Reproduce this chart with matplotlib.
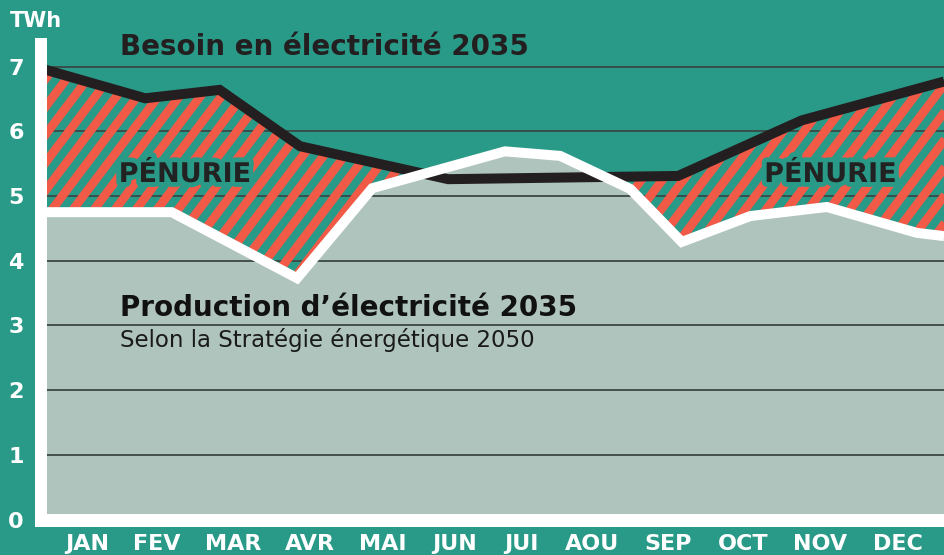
import numpy as np
import matplotlib
matplotlib.use("Agg")
import matplotlib.pyplot as plt
from matplotlib.path import Path
from matplotlib.collections import LineCollection
import matplotlib.patheffects as pe

# ---- data ----
months = ["JAN", "FEV", "MAR", "AVR", "MAI", "JUN", "JUI", "AOU", "SEP", "OCT", "NOV", "DEC"]
month_label_pos = [0, 0.95, 1.98, 3.02, 4.01, 4.99, 5.89, 6.85, 7.88, 8.90, 9.95, 11.0]
y_ticks = [0, 1, 2, 3, 4, 5, 6, 7]

demand_x = [-0.62, 0.79, 1.80, 2.89, 4.90, 8.02, 9.70, 11.63]
demand = [6.97, 6.51, 6.64, 5.77, 5.26, 5.31, 6.17, 6.77]

production_x = [-0.62, 1.15, 2.85, 3.87, 5.67, 6.42, 7.37, 8.07, 9.00, 10.04, 11.26, 11.63]
production = [4.75, 4.75, 3.73, 5.12, 5.69, 5.62, 5.11, 4.29, 4.69, 4.83, 4.43, 4.38]

# ---- style ----
TEAL = "#299a88"
RED = "#f05a46"
GRAY = "#aec4bc"
BLACK = "#231f20"
GRID = "#3b4745"

W, H = 944, 555
fig = plt.figure(figsize=(W / 100, H / 100), dpi=100, facecolor=TEAL)
ax = fig.add_axes([41 / W, (H - 519.5) / H, (944 - 41) / W, (519.5 - 44) / H])
ax.set_facecolor(TEAL)
ax.set_xlim(-0.624, 11.628)
ax.set_ylim(0, (519.5 - 44) / 64.7)

# production area
ax.fill_between(production_x, 0, production, color=GRAY, lw=0, zorder=0.4)

# grid lines
ax.hlines(y_ticks[1:], -0.624, 11.628, color=GRID, lw=1.3, zorder=0.6)

# shortage area (demand > production) with diagonal stripes
xs = np.unique(np.concatenate([demand_x, production_x]))
d_i = np.interp(xs, demand_x, demand)
p_i = np.interp(xs, production_x, production)
coll = ax.fill_between(xs, p_i, d_i, where=d_i > p_i, interpolate=True,
                       facecolor="none", edgecolor="none", lw=0, zorder=0.5)
clip = Path.make_compound_path(*coll.get_paths())

theta = np.deg2rad(53)
period = 21.0
inv = ax.transData.inverted()
segs = []
x0 = -H / np.tan(theta) - period
while x0 < W + period:
    p0 = inv.transform((x0, 0))
    p1 = inv.transform((x0 + H / np.tan(theta), H))
    segs.append([p0, p1])
    x0 += period
lc = LineCollection(segs, colors=RED, linewidths=6.3, capstyle="butt",
                    antialiaseds=True, zorder=1)
ax.add_collection(lc, autolim=False)
lc.set_clip_path(clip, ax.transData)

# lines
ax.plot(demand_x, demand, color=BLACK, lw=7.2, solid_joinstyle="miter",
        solid_capstyle="butt", zorder=3)
ax.plot(production_x, production, color="white", lw=7.2, solid_joinstyle="miter",
        solid_capstyle="butt", zorder=4)

# axes
for s in ["top", "right"]:
    ax.spines[s].set_visible(False)
ax.spines["left"].set_color("white")
ax.spines["left"].set_linewidth(8.64)
ax.spines["bottom"].set_color("white")
ax.spines["bottom"].set_linewidth(9.36)
for s in ["left", "bottom"]:
    ax.spines[s].set_capstyle("projecting")
    ax.spines[s].set_zorder(5)

ax.set_yticks(y_ticks)
ax.set_yticklabels([str(v) for v in y_ticks])
ax.set_xticks(month_label_pos)
ax.set_xticklabels(months)
ax.tick_params(axis="y", length=0, pad=12.5, labelcolor="white", labelsize=16)
ax.tick_params(axis="x", length=0, pad=10.5, labelcolor="white", labelsize=16)
for lab in ax.get_xticklabels() + ax.get_yticklabels():
    lab.set_fontweight("bold")

# texts
fig.text(10 / W, 1 - 27 / H, "TWh", fontsize=15, fontweight="bold", color="white",
         va="baseline", ha="left")
fig.text(120 / W, 1 - 55 / H, "Besoin en électricité 2035", fontsize=20,
         fontweight="bold", color=BLACK, va="baseline", ha="left")
fig.text(120 / W, 1 - 316 / H, "Production d’électricité 2035", fontsize=20,
         fontweight="bold", color="#111111", va="baseline", ha="left")
fig.text(120 / W, 1 - 347 / H, "Selon la Stratégie énergétique 2050", fontsize=16.5,
         color="#1a1a1a", va="baseline", ha="left")
for cx in (185, 830.5):
    fig.text(cx / W, 1 - 182 / H, "PÉNURIE", fontsize=19.5, fontweight="bold",
             color="#222222", va="baseline", ha="center",
             path_effects=[pe.withStroke(linewidth=7, foreground=TEAL)])

fig.savefig("out.png", dpi=100, facecolor=TEAL)
